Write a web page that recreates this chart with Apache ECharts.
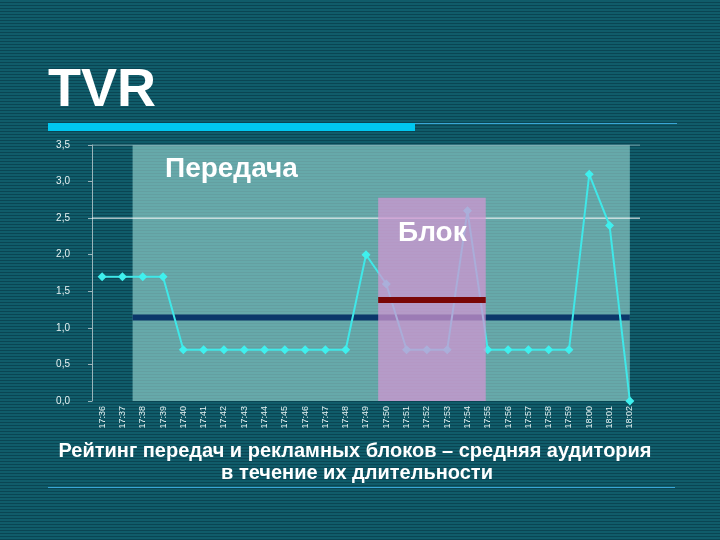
<!DOCTYPE html>
<html>
<head>
<meta charset="utf-8">
<script src="https://cdn.jsdelivr.net/npm/echarts@6/dist/echarts.min.js"></script>
<style>
html,body{margin:0;padding:0;}
body{width:720px;height:540px;background:repeating-linear-gradient(to bottom,#105c6a 0px,#105c6a 2px,#0a4553 2px,#0a4553 3px);}
#c{width:720px;height:540px;}
</style>
</head>
<body>
<div id="c"></div>
<script>
// ---- data ----
const categories = ['17:36','17:37','17:38','17:39','17:40','17:41','17:42','17:43','17:44','17:45','17:46','17:47','17:48','17:49','17:50','17:51','17:52','17:53','17:54','17:55','17:56','17:57','17:58','17:59','18:00','18:01','18:02'];
const tvr = [1.7,1.7,1.7,1.7,0.7,0.7,0.7,0.7,0.7,0.7,0.7,0.7,0.7,2.0,1.6,0.7,0.7,0.7,2.6,0.7,0.7,0.7,0.7,0.7,3.1,2.4,0.0];
const yTicks = [0,0.5,1,1.5,2,2.5,3,3.5];
// spans in category-index units (start, end) and heights
const programmeSpan = [1.5, 26];
const programmeTop = 3.5;
const programmeAvg = 1.14;
const blockSpan = [13.6, 18.9];
const blockTop = 2.78;
const blockAvg = 1.38;
const gridValue = 2.5;

const chart = echarts.init(document.getElementById('c'), null, {renderer:'canvas'});

function rectItem(fill){
  return function(params, api){
    const p0 = api.coord([api.value(0), api.value(3)]);
    const p1 = api.coord([api.value(1), api.value(2)]);
    return {type:'rect', shape:{x:p0[0], y:p0[1], width:p1[0]-p0[0], height:p1[1]-p0[1]}, style:{fill:fill}};
  };
}

const option = {
  backgroundColor:'transparent',
  animation:false,
  grid:{left:92, right:80, top:145, bottom:139, containLabel:false},
  xAxis:[
    {type:'category', data:categories, boundaryGap:true,
     axisLine:{show:false}, axisTick:{show:false},
     axisLabel:{rotate:90, fontSize:9, color:'#e6f2f2', margin:5, interval:0, fontFamily:'Liberation Sans'}},
    {type:'value', min:-0.5, max:26.5, show:false}
  ],
  yAxis:{type:'value', min:yTicks[0], max:yTicks[yTicks.length-1], interval:0.5,
    axisLine:{show:true, onZero:false, lineStyle:{color:'#9ab4ba', width:1}},
    axisTick:{show:true, length:4, lineStyle:{color:'#9ab4ba'}},
    splitLine:{show:false},
    axisLabel:{fontSize:10, color:'#e6f2f2', margin:22, fontFamily:'Liberation Sans',
      formatter:v=>v.toFixed(1).replace('.',',')}},
  series:[
    {type:'custom', xAxisIndex:1, z:1, renderItem:rectItem('rgba(160,220,214,0.6)'),
     encode:{x:[0,1], y:[2,3]}, data:[[programmeSpan[0], programmeSpan[1], 0, programmeTop]], silent:true},
    {type:'line', xAxisIndex:1, z:2, symbol:'none', silent:true,
     lineStyle:{color:'#8fb0b8', width:1}, data:[[-0.5,3.5],[26.5,3.5]]},
    {type:'line', xAxisIndex:1, z:2, symbol:'none', silent:true,
     lineStyle:{color:'#ffffff', width:1}, data:[[-0.5,gridValue],[26.5,gridValue]]},
    {type:'line', xAxisIndex:1, z:3, symbol:'none', silent:true,
     lineStyle:{color:'#0b376a', width:6}, data:[[programmeSpan[0],programmeAvg],[programmeSpan[1],programmeAvg]]},
    {type:'line', xAxisIndex:0, z:4, data:tvr, symbol:'diamond', symbolSize:9,
     itemStyle:{color:'#3ff0ee'}, lineStyle:{color:'#3fe8e8', width:2}},
    {type:'custom', xAxisIndex:1, z:5, renderItem:rectItem('rgba(212,150,210,0.72)'),
     encode:{x:[0,1], y:[2,3]}, data:[[blockSpan[0], blockSpan[1], 0, blockTop]], silent:true},
    {type:'line', xAxisIndex:1, z:6, symbol:'none', silent:true,
     lineStyle:{color:'#7a0606', width:6}, data:[[blockSpan[0],blockAvg],[blockSpan[1],blockAvg]]}
  ],
  graphic:[
    {type:'text', left:48, top:64, z:10, style:{text:'TVR', fill:'#ffffff', font:'bold 54px "Liberation Sans", Arial'}},
    {type:'rect', shape:{x:48, y:123, width:367, height:8}, style:{fill:'#00c8f0'}},
    {type:'rect', shape:{x:415, y:123, width:262, height:1}, style:{fill:'#3aa6d6'}},
    {type:'text', left:165, top:155, z:10, style:{text:'Передача', fill:'#ffffff', font:'bold 28px "Liberation Sans", Arial'}},
    {type:'text', left:398, top:219, z:10, style:{text:'Блок', fill:'#ffffff', font:'bold 28px "Liberation Sans", Arial'}},
    {type:'text', x:355, y:451, z:10, style:{text:'Рейтинг передач и рекламных блоков – средняя аудитория', fill:'#ffffff', font:'bold 20px "Liberation Sans", Arial', align:'center', verticalAlign:'middle'}},
    {type:'text', x:357, y:473, z:10, style:{text:'в течение их длительности', fill:'#ffffff', font:'bold 20px "Liberation Sans", Arial', align:'center', verticalAlign:'middle'}},
    {type:'rect', shape:{x:48, y:487, width:627, height:1}, style:{fill:'#3aa6d6'}}
  ]
};
chart.setOption(option);
</script>
</body>
</html>
